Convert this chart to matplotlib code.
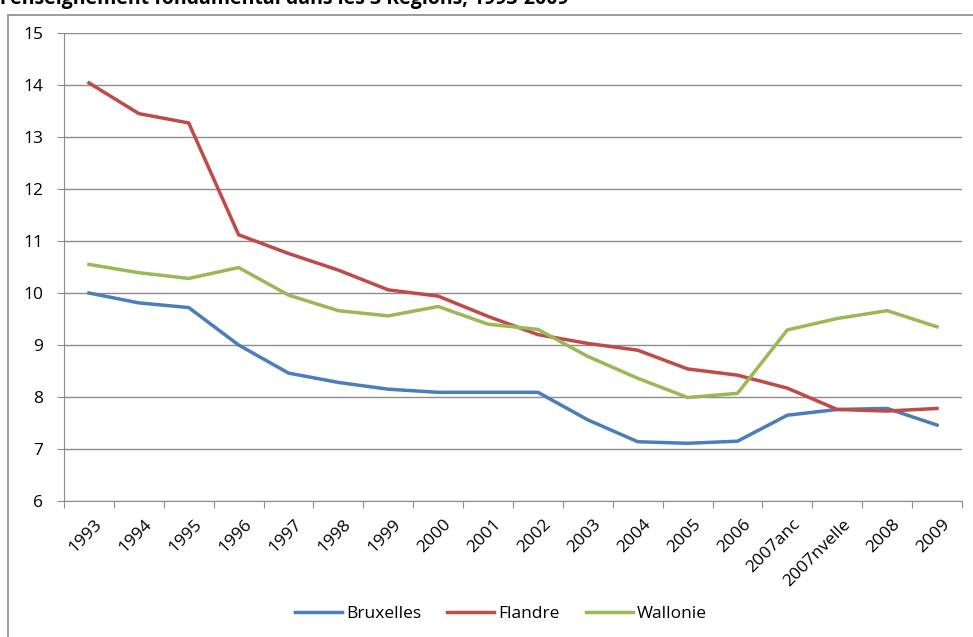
import matplotlib
matplotlib.use("Agg")
import matplotlib.pyplot as plt
from matplotlib.patches import Rectangle
import numpy as np

# Données
categories = ["1993", "1994", "1995", "1996", "1997", "1998", "1999", "2000", "2001",
              "2002", "2003", "2004", "2005", "2006", "2007anc", "2007nvelle", "2008", "2009"]
bruxelles = [10.0, 9.81, 9.72, 9.0, 8.46, 8.28, 8.15, 8.09, 8.09,
             8.09, 7.56, 7.14, 7.11, 7.15, 7.65, 7.76, 7.78, 7.46]
flandre = [14.04, 13.45, 13.27, 11.12, 10.76, 10.44, 10.06, 9.94, 9.55,
           9.2, 9.03, 8.9, 8.54, 8.42, 8.17, 7.76, 7.73, 7.78]
wallonie = [10.55, 10.39, 10.28, 10.49, 9.96, 9.66, 9.56, 9.74, 9.4,
            9.3, 8.78, 8.36, 7.99, 8.07, 9.29, 9.51, 9.66, 9.35]
yticks = [6, 7, 8, 9, 10, 11, 12, 13, 14, 15]
titre = "l'enseignement fondamental dans les 3 Régions, 1993-2009"

plt.rcParams['font.family'] = ['Open Sans', 'DejaVu Sans']

W, H = 973, 637
fig = plt.figure(figsize=(W / 100, H / 100), dpi=100)

# cadre de la zone du graphique
fig.patches.append(Rectangle((8 / W, -0.05), 1.2, 1 - 15 / H + 0.05,
                             transform=fig.transFigure, fill=False,
                             edgecolor="#8c8c8c", linewidth=1.2))

fig.text(0.0, 1 + 1 / H, titre, ha="left", va="center", fontsize=14,
         fontweight="bold", color="black")

ax = fig.add_axes([64 / W, 1 - 501 / H, (962 - 64) / W, (501 - 33) / H])

x = np.arange(len(categories))
ax.plot(x, bruxelles, color="#4A7EBB", lw=2.5, label="Bruxelles", solid_joinstyle="round")
ax.plot(x, flandre, color="#BE4B48", lw=2.5, label="Flandre", solid_joinstyle="round")
ax.plot(x, wallonie, color="#98B954", lw=2.5, label="Wallonie", solid_joinstyle="round")

ax.set_xlim(-0.5, len(categories) - 0.5)
ax.set_ylim(6, 15)
ax.set_yticks(yticks)
ax.grid(axis="y", color="#8c8c8c", lw=1)
ax.set_axisbelow(True)

for s in ["top", "right"]:
    ax.spines[s].set_visible(False)
for s in ["left", "bottom"]:
    ax.spines[s].set_color("#8c8c8c")

ax.set_xticks(np.arange(len(categories) + 1) - 0.5)
ax.set_xticklabels([])
ax.set_xticks(x + 0.1, minor=True)
ax.set_xticklabels(categories, minor=True, rotation=45, ha="right", va="top",
                   rotation_mode="anchor", fontsize=12.5)
ax.tick_params(axis="x", which="major", length=5, color="#8c8c8c")
ax.tick_params(axis="x", which="minor", length=0, pad=11)
ax.tick_params(axis="y", length=5, color="#8c8c8c", labelsize=12.5, pad=10)

fig.legend(loc="center", bbox_to_anchor=(0.515, 1 - 614 / H), ncol=3, frameon=False,
           fontsize=12.5, handlelength=2.7, columnspacing=1.5, handletextpad=0.25)

fig.savefig("out.png", dpi=100)
